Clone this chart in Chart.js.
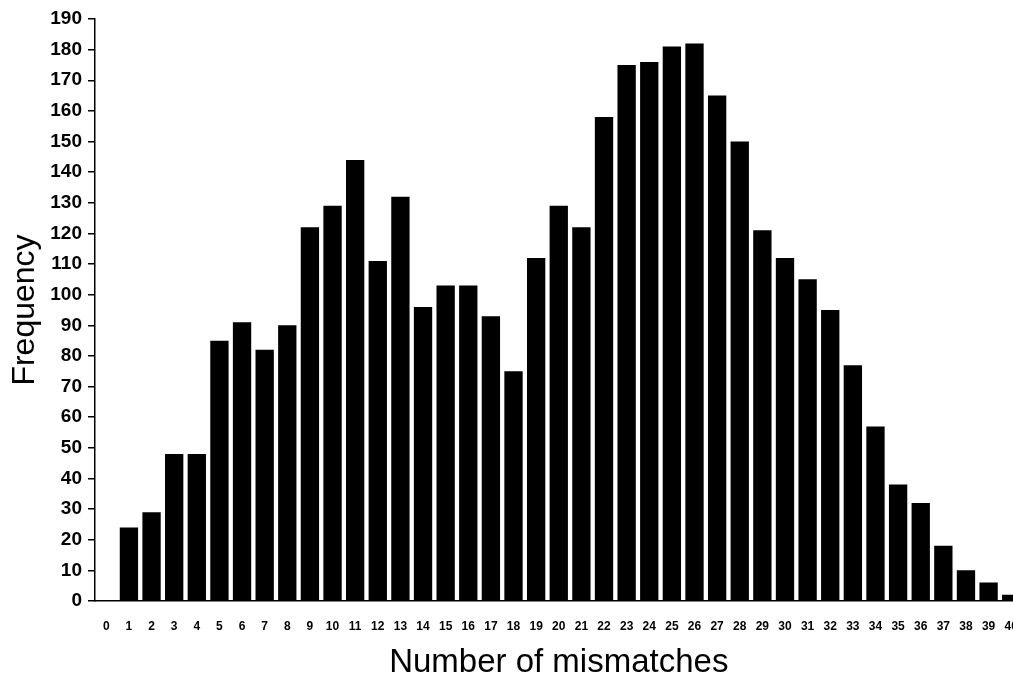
<!DOCTYPE html>
<html>
<head>
<meta charset="utf-8">
<script src="https://cdn.jsdelivr.net/npm/chart.js@4"></script>
<style>
  html, body { margin: 0; padding: 0; background: #fff; overflow: hidden; }
  #wrap { width: 1036px; height: 681px; }
</style>
</head>
<body>
<div id="wrap"><canvas id="mismatchChart"></canvas></div>
<script>
const mismatches = ["0","1","2","3","4","5","6","7","8","9","10","11","12","13","14","15","16","17","18","19","20",
    "21","22","23","24","25","26","27","28","29","30","31","32","33","34","35","36","37","38","39","40"];
const frequency = [0, 24, 29, 48, 48, 85, 91, 82, 90, 122, 129, 144, 111, 132, 96, 103, 103, 93, 75, 112, 129,
    122, 158, 175, 176, 181, 182, 165, 150, 121, 112, 105, 95, 77, 57, 38, 32, 18, 10, 6, 2];
const yMin = 0;
const yMax = 190;
const yStep = 10;

const ctx = document.getElementById("mismatchChart").getContext("2d");

new Chart(ctx, {
    type: "bar",
    data: {
        labels: mismatches,
        datasets: [{
            label: "Frequency",
            data: frequency,
            backgroundColor: "#000",
            borderWidth: 0,
            barPercentage: 0.81,
            categoryPercentage: 1.0
        }]
    },
    options: {
        responsive: true,
        maintainAspectRatio: false,
        animation: false,
        layout: { padding: { top: 19, right: 9, left: 0, bottom: 0 } },
        plugins: {
            legend: { display: false },
            tooltip: { enabled: false }
        },
        scales: {
            x: {
                offset: true,
                grid: { display: false, drawTicks: false },
                border: { display: true, color: "#000", width: 1.5 },
                ticks: {
                    color: "#000",
                    padding: 18,
                    maxRotation: 0,
                    autoSkip: false,
                    font: { family: "'Liberation Sans', Arial, sans-serif", size: 12, weight: "bold" }
                },
                title: {
                    display: true,
                    text: "Number of mismatches",
                    color: "#000",
                    padding: { top: 0, bottom: 2 },
                    font: { family: "'Liberation Sans', Arial, sans-serif", size: 33, lineHeight: 1 }
                },
                afterFit: (scale) => { scale.height = 80; }
            },
            y: {
                min: yMin,
                max: yMax,
                grid: { display: true, drawOnChartArea: false, drawTicks: true, tickLength: 7, color: "#000", lineWidth: 1.5 },
                border: { display: true, color: "#000", width: 1.5 },
                ticks: {
                    stepSize: yStep,
                    color: "#000",
                    padding: 6,
                    font: { family: "'Liberation Sans Narrow', 'Liberation Sans', sans-serif", size: 19, weight: "bold" }
                },
                title: {
                    display: true,
                    text: "Frequency",
                    color: "#000",
                    padding: { top: 9, bottom: 0 },
                    font: { family: "'Liberation Sans', Arial, sans-serif", size: 32, lineHeight: 1 }
                },
                afterFit: (scale) => { scale.width = 95; }
            }
        }
    }
});
</script>
</body>
</html>
